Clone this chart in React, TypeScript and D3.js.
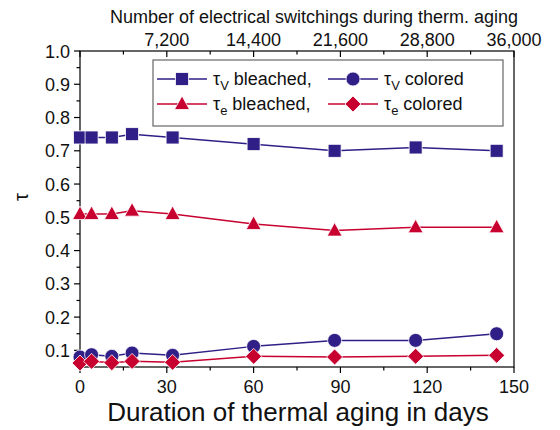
import React from "react";
import * as d3 from "d3";

const days = [0, 4, 11, 18, 32, 60, 88, 116, 144];
const tauVBleached = [0.74, 0.74, 0.74, 0.75, 0.74, 0.72, 0.70, 0.71, 0.70];
const tauEBleached = [0.51, 0.51, 0.51, 0.52, 0.51, 0.48, 0.46, 0.47, 0.47];
const tauVColored = [0.08, 0.087, 0.082, 0.092, 0.085, 0.112, 0.13, 0.13, 0.15];
const tauEColored = [0.062, 0.067, 0.063, 0.067, 0.064, 0.082, 0.08, 0.082, 0.085];

const xTicks = [0, 30, 60, 90, 120, 150];
const yTicks = [0.1, 0.2, 0.3, 0.4, 0.5, 0.6, 0.7, 0.8, 0.9, 1.0];
const topTicks = [7200, 14400, 21600, 28800, 36000];

const BLUE = "#2f1f86";
const RED = "#c8002f";
const FONT = "Liberation Sans, Arial, sans-serif";

const L = 80, R = 514, T = 51, B = 367;

const x = d3.scaleLinear().domain([0, 150]).range([L, R]);
const x2 = d3.scaleLinear().domain([0, 36000]).range([L, R]);
const y = d3.scaleLinear().domain([0.05, 1.0]).range([B, T]);

type Shape = "square" | "circle" | "triangle" | "diamond";

function Marker({ cx, cy, shape, color }: { cx: number; cy: number; shape: Shape; color: string }) {
  const common = { fill: color, stroke: "#fff", strokeWidth: 0.8 };
  if (shape === "square") return <rect x={cx - 6.5} y={cy - 6.5} width={13} height={13} {...common} />;
  if (shape === "circle") return <circle cx={cx} cy={cy} r={7} {...common} />;
  if (shape === "triangle") {
    const p = `${cx},${cy - 8} ${cx + 7.5},${cy + 5.5} ${cx - 7.5},${cy + 5.5}`;
    return <polygon points={p} {...common} />;
  }
  const p = `${cx},${cy - 8} ${cx + 8},${cy} ${cx},${cy + 8} ${cx - 8},${cy}`;
  return <polygon points={p} {...common} />;
}

const series: { vals: number[]; color: string; shape: Shape }[] = [
  { vals: tauVBleached, color: BLUE, shape: "square" },
  { vals: tauEBleached, color: RED, shape: "triangle" },
  { vals: tauVColored, color: BLUE, shape: "circle" },
  { vals: tauEColored, color: RED, shape: "diamond" },
];

export default function App() {
  const line = d3.line<number>().x((_, i) => x(days[i])).y((v) => y(v));
  const xMinor = d3.range(0, 151, 15);
  const yMinor = d3.range(0.05, 1.001, 0.05);
  const topMinor = d3.range(0, 36001, 3600);

  const legendItems = [
    { lx: 157, ty: 85, sub: "V", text: " bleached,", color: BLUE, shape: "square" as Shape },
    { lx: 328, ty: 85, sub: "V", text: " colored", color: BLUE, shape: "circle" as Shape },
    { lx: 157, ty: 110, sub: "e", text: " bleached,", color: RED, shape: "triangle" as Shape },
    { lx: 328, ty: 110, sub: "e", text: " colored", color: RED, shape: "diamond" as Shape },
  ];

  return (
    <svg width={560} height={430} style={{ position: "absolute", left: 0, top: 0, background: "#fff" }} fontFamily={FONT}>
      <rect x={0} y={0} width={560} height={430} fill="#fff" />
      {/* frame */}
      <rect x={L} y={T} width={R - L} height={B - T} fill="none" stroke="#000" strokeWidth={1.2} />
      {/* bottom ticks */}
      {xMinor.map((t) => (
        <line key={"bx" + t} x1={x(t)} x2={x(t)} y1={B} y2={B + (t % 30 === 0 ? 6 : 3.5)} stroke="#000" strokeWidth={1.2} />
      ))}
      {xTicks.map((t) => (
        <text key={"bl" + t} x={x(t)} y={393} fontSize={18} textAnchor="middle" fill="#111">{t}</text>
      ))}
      {/* left ticks */}
      {yMinor.map((t) => {
        const major = Math.abs(Math.round(t * 10) - t * 10) < 1e-6;
        return <line key={"ly" + t.toFixed(2)} x1={L - (major ? 6 : 3.5)} x2={L} y1={y(t)} y2={y(t)} stroke="#000" strokeWidth={1.2} />;
      })}
      {yTicks.map((t) => (
        <text key={"yl" + t} x={70} y={y(t) + 6.5} fontSize={18} textAnchor="end" fill="#111">{t.toFixed(1)}</text>
      ))}
      {/* top ticks */}
      {topMinor.map((t) => (
        <line key={"tx" + t} x1={x2(t)} x2={x2(t)} y1={T} y2={T + (t % 7200 === 0 ? 6 : 3.5)} stroke="#000" strokeWidth={1.2} />
      ))}
      {topTicks.map((t) => (
        <text key={"tl" + t} x={x2(t)} y={46} fontSize={18} textAnchor="middle" fill="#111">{d3.format(",")(t)}</text>
      ))}
      {/* titles */}
      <text x={314} y={23} fontSize={18} textAnchor="middle" fill="#111">Number of electrical switchings during therm. aging</text>
      <text x={298} y={421} fontSize={26} textAnchor="middle" fill="#111">Duration of thermal aging in days</text>
      <text transform="translate(28,197) rotate(-90)" fontSize={20} textAnchor="middle" fill="#111">τ</text>
      {/* series */}
      {series.map((s, si) => (
        <g key={"s" + si}>
          <path d={line(s.vals) || ""} fill="none" stroke={s.color} strokeWidth={1.5} />
          {s.vals.map((v, i) => (
            <Marker key={i} cx={x(days[i])} cy={y(v)} shape={s.shape} color={s.color} />
          ))}
        </g>
      ))}
      {/* legend */}
      <rect x={153} y={60} width={350} height={66} fill="#fff" stroke="#666" strokeWidth={1.2} />
      {legendItems.map((it, i) => (
        <g key={"lg" + i}>
          <line x1={it.lx} x2={it.lx + 50} y1={it.ty - 6} y2={it.ty - 6} stroke={it.color} strokeWidth={1.5} />
          <Marker cx={it.lx + 25} cy={it.ty - 6} shape={it.shape} color={it.color} />
          <text x={it.lx + 56} y={it.ty} fontSize={18} fill="#111">
            τ<tspan dy={5} fontSize={13}>{it.sub}</tspan><tspan dy={-5}>{it.text}</tspan>
          </text>
        </g>
      ))}
    </svg>
  );
}
